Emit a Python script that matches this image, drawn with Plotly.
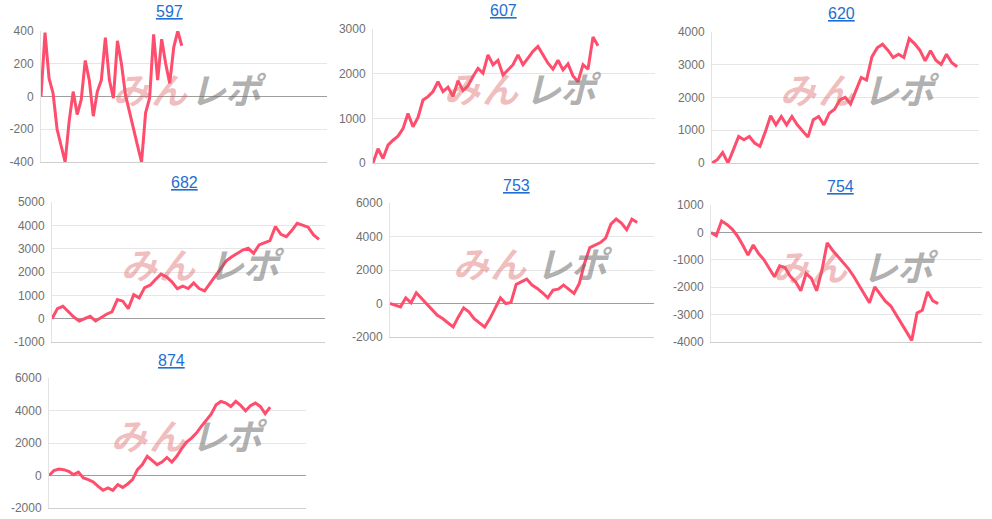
import plotly.graph_objects as go

W, H = 992, 519

# ---- data ----
titles = ["597", "607", "620", "682", "753", "754", "874"]

s597 = [0, 390, 110, 20, -200, -300, -400, -150, 30, -110, -20, 220, 100, -120, 30, 100,
        360, 100, -10, 340, 200, 10, -100, -200, -300, -400, -100, -10, 380, 100, 350,
        200, 80, 300, 400, 310]
s607 = [0, 320, 100, 400, 510, 600, 770, 1110, 810, 1020, 1410, 1485, 1600, 1820, 1600,
        1700, 1485, 1845, 1620, 1725, 1935, 2120, 2010, 2420, 2200, 2300, 1970, 2085, 2200,
        2420, 2200, 2350, 2500, 2610, 2420, 2235, 2100, 2300, 2085, 2220, 1950, 1820, 2200,
        2100, 2820, 2625]
s620 = [0, 100, 320, 0, 400, 810, 710, 810, 610, 510, 950, 1440, 1165, 1420, 1165, 1420,
        1165, 990, 790, 1320, 1420, 1165, 1520, 1640, 1925, 2005, 1800, 2210, 2610, 2530,
        3240, 3515, 3625, 3445, 3220, 3320, 3220, 3800, 3645, 3445, 3120, 3425, 3140, 3010,
        3320, 3060, 2940]
s682 = [0, 430, 530, 290, 70, -100, 0, 100, -100, 40, 190, 290, 820, 750, 430, 1030, 890,
        1330, 1435, 1680, 1910, 1795, 1580, 1290, 1390, 1290, 1535, 1290, 1190, 1510, 1820,
        2150, 2480, 2655, 2800, 2940, 3015, 2800, 3160, 3255, 3345, 3950, 3615, 3515, 3775,
        4090, 4020, 3920, 3590, 3400]
s753 = [0, -100, -200, 340, 40, 640, 300, -60, -400, -700, -900, -1160, -1400, -800, -260,
        -500, -900, -1160, -1400, -900, -300, 340, 0, 60, 1140, 1300, 1460, 1100, 900, 640,
        340, 800, 860, 1100, 840, 600, 1200, 2400, 3340, 3500, 3640, 3900, 4740, 5040, 4800,
        4400, 5040, 4840]
s754 = [0, -120, 415, 290, 120, -130, -460, -830, -460, -770, -990, -1320, -1620, -1220,
        -1280, -1600, -1800, -2130, -1500, -1680, -2130, -1380, -380, -650, -870, -1130,
        -1320, -1600, -1930, -2230, -2570, -1990, -2270, -2510, -2680, -3000, -3330, -3660,
        -3940, -2940, -2840, -2170, -2500, -2600]
s874 = [0, 300, 400, 360, 260, 50, 210, -150, -250, -400, -670, -910, -770, -910, -560,
        -730, -520, -250, 360, 670, 1180, 910, 670, 830, 1110, 830, 1180, 1650, 2060, 2300,
        2610, 3020, 3370, 3780, 4350, 4560, 4460, 4250, 4560, 4310, 3980, 4290, 4460, 4250,
        3800, 4210]
series = [s597, s607, s620, s682, s753, s754, s874]

# y tick values per panel (labels are these values as text)
yticks = [
    [-400, -200, 0, 200, 400],
    [0, 1000, 2000, 3000],
    [0, 1000, 2000, 3000, 4000],
    [-1000, 0, 1000, 2000, 3000, 4000, 5000],
    [-2000, 0, 2000, 4000, 6000],
    [-4000, -3000, -2000, -1000, 0, 1000],
    [-2000, 0, 2000, 4000, 6000],
]

# ---- layout (pixels) ----
# plot boxes: x0, x1, ytop, ybottom
boxes = [
    (41, 327, 31, 162),
    (373, 655, 29, 163),
    (712, 979, 32, 163),
    (52, 325, 202, 342),
    (390, 654, 203, 337),
    (711, 982, 205, 342),
    (49, 306, 378, 508),
]
xmax = [71.1, 56.4, 50.1, 50.1, 50.2, 51.3, 52.3]
title_pos = [(169, 12), (503, 11), (841, 13), (184, 182), (516, 185), (840, 187), (171, 360)]
# watermark: centers of "みん" and "レポ", y
wm_pos = [(150, 227, 88), (481, 562, 87), (817, 900, 88), (158, 245, 263),
          (490, 573, 262), (810, 899, 265), (148, 228, 434)]

LINE = "#ff4d6d"
fig = go.Figure()
annotations = []
for k, (vals, box) in enumerate(zip(series, boxes)):
    n = k + 1
    xa = "x" if n == 1 else f"x{n}"
    ya = "y" if n == 1 else f"y{n}"
    fig.add_trace(go.Scatter(x=list(range(len(vals))), y=vals, mode="lines",
                             line=dict(color=LINE, width=3), xaxis=xa, yaxis=ya,
                             showlegend=False, hoverinfo="skip"))
    x0, x1, yt, yb = box
    tv = yticks[k]
    xkey = "xaxis" if n == 1 else f"xaxis{n}"
    ykey = "yaxis" if n == 1 else f"yaxis{n}"
    fig.layout[xkey] = dict(domain=[x0 / W, x1 / W], range=[0, xmax[k]], showgrid=False,
                            zeroline=False, showticklabels=False, showline=True,
                            linecolor="#cfcfcf", linewidth=1, anchor=ya, fixedrange=True,
                            automargin=False)
    fig.layout[ykey] = dict(domain=[1 - yb / H, 1 - yt / H], range=[tv[0], tv[-1]],
                            tickvals=tv, ticktext=[str(v) for v in tv],
                            showgrid=True, gridcolor="#e6e6e6", gridwidth=1,
                            zeroline=True, zerolinecolor="#9e9e9e", zerolinewidth=1,
                            showline=True, linecolor="#e3e3e3", linewidth=1,
                            ticks="", ticklabelstandoff=4, automargin=False,
                            tickfont=dict(family="Arial, Liberation Sans", size=12, color="#707070"),
                            anchor=xa, fixedrange=True)
    tx, ty = title_pos[k]
    annotations.append(dict(x=tx / W, y=1 - ty / H, xref="paper", yref="paper",
                            text=f"<u>{titles[k]}</u>", showarrow=False,
                            font=dict(family="Arial, Liberation Sans", size=16, color="#1f6fd0"),
                            xanchor="center", yanchor="middle"))
    c1, c2, wy = wm_pos[k]
    for ch, cx, col in [("み", c1 - 19, "rgba(220,95,95,0.42)"), ("ん", c1 + 19, "rgba(220,95,95,0.42)"),
                        ("レ", c2 - 19, "rgba(110,110,110,0.55)"), ("ポ", c2 + 19, "rgba(110,110,110,0.55)")]:
        annotations.append(dict(x=cx / W, y=1 - wy / H, xref="paper", yref="paper",
                                text=f"<b><i>{ch}</i></b>", showarrow=False,
                                font=dict(family="Noto Sans CJK JP", size=36, color=col),
                                xanchor="center", yanchor="middle"))

fig.update_layout(width=W, height=H, autosize=False,
                  margin=dict(l=0, r=0, t=0, b=0, autoexpand=False),
                  paper_bgcolor="white", plot_bgcolor="white",
                  annotations=annotations)

fig.write_html("out.html", config={"displayModeBar": False},
               post_script="document.body.style.margin='0';document.body.style.overflow='hidden';")
